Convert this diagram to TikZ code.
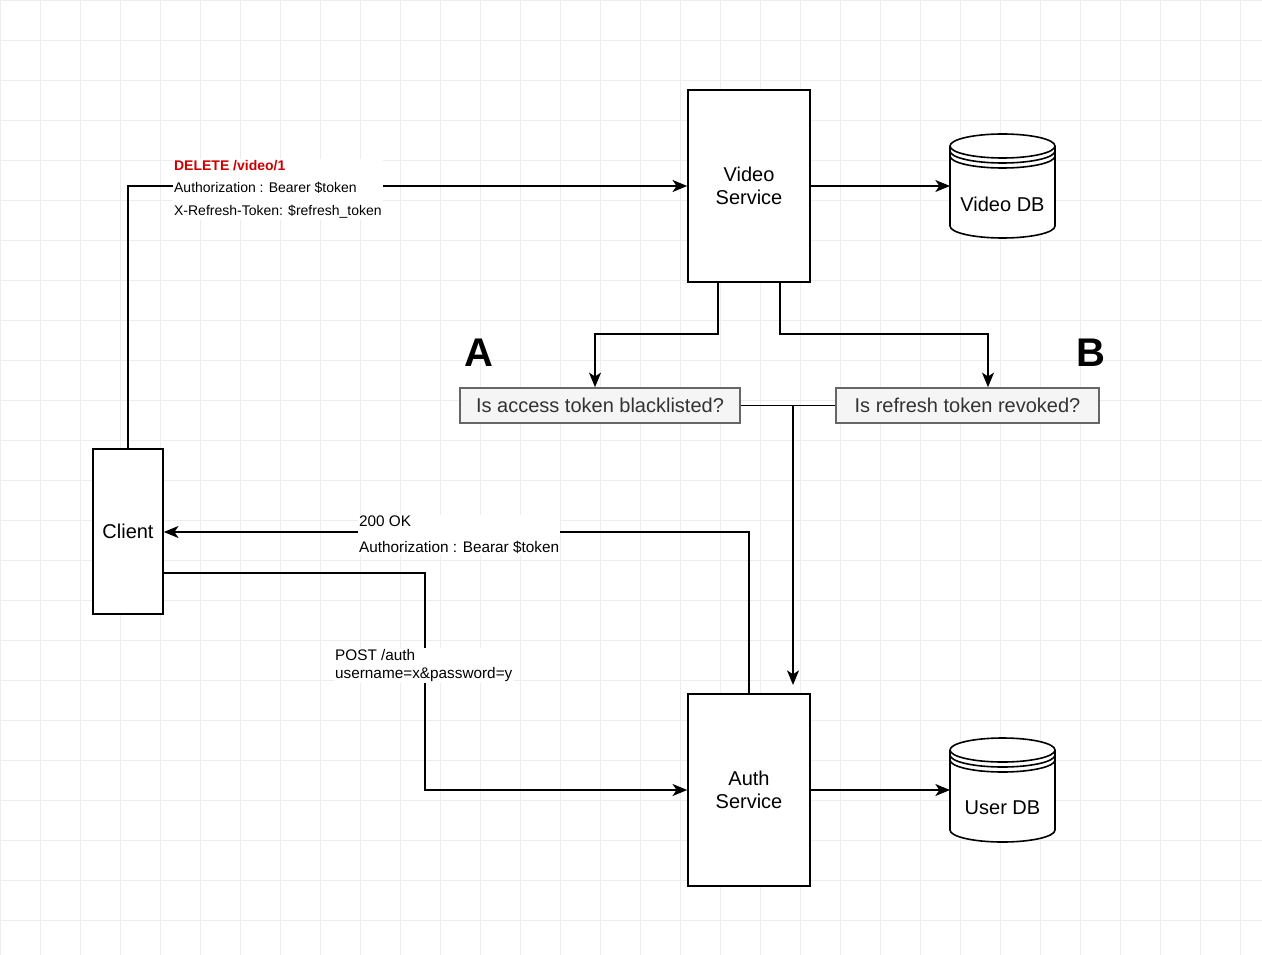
\documentclass[tikz,border=0pt]{standalone}
\usepackage{fontspec}
\setmainfont{Liberation Sans}
\usetikzlibrary{arrows.meta}
\definecolor{gridc}{HTML}{EDEDED}
\definecolor{boxf}{HTML}{F5F5F5}
\definecolor{boxd}{HTML}{666666}
\definecolor{redt}{HTML}{CC0000}
\begin{document}
\begin{tikzpicture}[x=0.75pt,y=-0.75pt,
  line width=1.2pt,
  arr/.style={-{Stealth[length=11pt,width=9pt,inset=3pt]}},
  svc/.style={draw,fill=white,minimum width=91.5pt,minimum height=144pt,align=center,font=\fontsize{15}{17}\selectfont,inner sep=0pt},
  q/.style={draw=boxd,fill=boxf,line width=1.4pt,minimum height=26pt,inner sep=0pt,font=\fontsize{15}{17}\selectfont,text=black!80},
  lab/.style={fill=white,align=left,anchor=north west,inner sep=1pt,font=\fontsize{10.5}{17}\selectfont},
  big/.style={font=\fontsize{30}{30}\selectfont\bfseries}]
\useasboundingbox (0,0) rectangle (1262,955);
\fill[white] (0,0) rectangle (1262,955);
\foreach \x in {0,40,...,1262} \draw[gridc,line width=0.6pt] (\x,0) -- (\x,955);
\foreach \y in {0,40,...,955} \draw[gridc,line width=0.6pt] (0,\y) -- (1262,\y);

\node[svc] (video) at (749,186) {Video\\Service};
\node[svc] (auth) at (749,790) {Auth\\Service};
\node[draw,fill=white,minimum width=52.5pt,minimum height=124pt,font=\fontsize{15}{17}\selectfont,inner sep=0pt] (client) at (128,531.5) {Client};
\node[q,minimum width=210pt] (qa) at (600,405.5) {Is access token blacklisted?};
\node[q,minimum width=197pt] (qb) at (967.5,405.5) {Is refresh token revoked?};
\node[big] (la) at (479,353) {A};
\node[big] (lb) at (1091,353) {B};

% cylinders
\foreach \nm/\cy/\t in {vdb/134/Video DB,udb/738/User DB}{
  \begin{scope}[shift={(1002.5,\cy)}]
  \draw[fill=white] (-52.5,12) -- (-52.5,92) arc[start angle=180,end angle=0,x radius=52.5,y radius=12] -- (52.5,12) arc[start angle=0,end angle=-180,x radius=52.5,y radius=12] -- cycle;
  \draw (-52.5,12) arc[start angle=180,end angle=0,x radius=52.5,y radius=12];
  \draw (-52.5,17) arc[start angle=180,end angle=0,x radius=52.5,y radius=12];
  \draw (-52.5,22) arc[start angle=180,end angle=0,x radius=52.5,y radius=12];
  \node[font=\fontsize{15}{17}\selectfont,inner sep=0pt] (\nm) at (0,70) {\t};
  \coordinate (\nm w) at (-52.5,52);
  \end{scope}}

\draw[arr] (client.north) |- (video.west |- 0,186);
\draw[arr] (video.east |- 0,186) -- (vdbw);
\draw[arr] (auth.east |- 0,790) -- (udbw);
\draw[arr] (718,282) |- (595,334) -- (qa.north -| 595,0);
\draw[arr] (780,282) |- (988,334) -- (qb.north -| 988,0);
\draw (qa.east) -- (qb.west);
\coordinate (j) at (793,405.5);
\draw[arr] (j) -- (793,685);
\draw[arr] (auth.north) |- (client.east |- 0,532);
\draw[arr] (client.east |- 0,573) -| (425,790) -- (auth.west |- 0,790);

\node[lab] at (172,158) {\textcolor{redt}{\bfseries DELETE /video/1}\\Authorization : Bearer \$token\\X-Refresh-Token: \$refresh\_token};
\node[lab,font=\fontsize{11.5}{19}\selectfont] at (357,514) {200 OK\\Authorization : Bearar \$token};
\node[lab,font=\fontsize{11.5}{14}\selectfont] at (333,647) {POST /auth\\username=x\&password=y};
\end{tikzpicture}
\end{document}
